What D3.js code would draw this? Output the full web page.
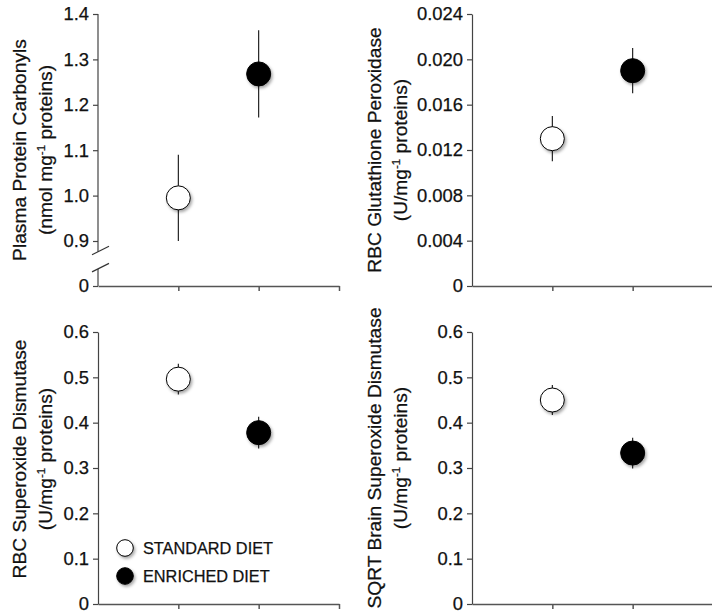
<!DOCTYPE html>
<html>
<head>
<meta charset="utf-8">
<script src="https://cdn.jsdelivr.net/npm/d3@7"></script>
<style>
  body { margin: 0; background: #fff; }
  svg text { font-family: "Liberation Sans", Arial, sans-serif; fill: #111; stroke: #111; stroke-width: 0.25px; }
</style>
</head>
<body>
<div id="chart"></div>
<script>
const groups = ["STANDARD DIET", "ENRICHED DIET"];
const groupPos = [1, 2];

const carbonylMean = [0.995, 1.268];
const carbonylErr = [0.095, 0.096];
const gpxMean = [0.013, 0.019];
const gpxErr = [0.002, 0.002];
const rbcSodMean = [0.496, 0.378];
const rbcSodErr = [0.034, 0.035];
const brainSodMean = [0.450, 0.333];
const brainSodErr = [0.033, 0.034];

const carbonylTicks = [0, 0.9, 1.0, 1.1, 1.2, 1.3, 1.4];
const gpxTicks = [0, 0.004, 0.008, 0.012, 0.016, 0.020, 0.024];
const sodTicks = [0, 0.1, 0.2, 0.3, 0.4, 0.5, 0.6];

const width = 712;
const height = 615;

const svg = d3.select("#chart").append("svg")
  .attr("width", width)
  .attr("height", height);

// soft drop shadow under the markers
const defs = svg.append("defs");
defs.append("filter")
  .attr("id", "shadow")
  .attr("x", "-50%").attr("y", "-50%")
  .attr("width", "200%").attr("height", "200%")
  .append("feDropShadow")
  .attr("dx", 1.5).attr("dy", 2)
  .attr("stdDeviation", 1.6)
  .attr("flood-color", "#000")
  .attr("flood-opacity", 0.35);

const fmt1 = (d) => (d === 0 ? "0" : d.toFixed(1));
const fmt3 = (d) => (d === 0 ? "0" : d.toFixed(3));

function drawPanel(opt) {
  const x = d3.scaleLinear().domain([0, 3]).range([opt.left, opt.right]);
  const y = d3.scaleLinear().domain(opt.domain).range(opt.range);
  const g = svg.append("g");

  // x axis
  const xAxis = g.append("g")
    .attr("transform", `translate(0,${y(0)})`)
    .call(d3.axisBottom(x).tickValues([1, 2, 3]).tickFormat("").tickSize(5).tickSizeOuter(0));
  xAxis.selectAll("path, line").attr("stroke", "#555").attr("stroke-width", 1.5);

  // y axis
  const yAxis = g.append("g")
    .attr("transform", `translate(${opt.left},0)`)
    .call(d3.axisLeft(y).tickValues(opt.ticks).tickFormat(opt.format).tickSize(5).tickSizeOuter(0).tickPadding(4));
  yAxis.selectAll("path, line").attr("stroke", "#444").attr("stroke-width", 1.2);
  yAxis.selectAll("text").attr("font-size", 18.4).attr("fill", "#111");

  if (opt.broken) {
    // axis break between 0 and the first non-zero tick
    yAxis.select(".domain").remove();
    const y0 = y(0);
    const y1 = y(opt.ticks[1]);
    const gap = y0 - y1;
    const b1 = y1 + gap * 0.24;
    const b2 = y1 + gap * 0.62;
    const seg = [[y(opt.ticks[opt.ticks.length - 1]), b1], [b2, y0]];
    seg.forEach(([a, b]) => {
      g.append("line")
        .attr("x1", opt.left).attr("x2", opt.left)
        .attr("y1", a).attr("y2", b)
        .attr("stroke", "#444").attr("stroke-width", 1.2);
    });
    [b1, b2].forEach((b) => {
      g.append("line")
        .attr("x1", opt.left - 6).attr("y1", b + 3)
        .attr("x2", opt.left + 11).attr("y2", b - 5.5)
        .attr("stroke", "#333").attr("stroke-width", 1.2);
    });
  }

  // error bars
  g.selectAll(".err").data(opt.mean).join("line")
    .attr("x1", (d, i) => x(groupPos[i]))
    .attr("x2", (d, i) => x(groupPos[i]))
    .attr("y1", (d, i) => y(d + opt.err[i]))
    .attr("y2", (d, i) => y(d - opt.err[i]))
    .attr("stroke", "#111").attr("stroke-width", 1.1);

  // means
  g.selectAll(".pt").data(opt.mean).join("circle")
    .attr("cx", (d, i) => x(groupPos[i]))
    .attr("cy", (d) => y(d))
    .attr("r", 12)
    .attr("fill", (d, i) => (i === 0 ? "#fff" : "#000"))
    .attr("stroke", "#000").attr("stroke-width", 1)
    .attr("filter", "url(#shadow)");

  // y axis title, two lines
  const title = g.append("g")
    .attr("transform", `translate(0,${opt.titleY}) rotate(-90)`);
  title.append("text")
    .attr("x", 0).attr("y", opt.titleX[0])
    .attr("text-anchor", "middle")
    .attr("font-size", 19.2)
    .text(opt.title);
  const t2 = title.append("text")
    .attr("x", 0).attr("y", opt.titleX[1])
    .attr("text-anchor", "middle")
    .attr("font-size", 19.2);
  t2.append("tspan").text(opt.unit[0]);
  t2.append("tspan").attr("dy", -7).attr("font-size", 11.5).text("-1");
  t2.append("tspan").attr("dy", 7).text(opt.unit[1]);

  return { x, y };
}

drawPanel({
  left: 98, right: 339, domain: [0, 0.9, 1.4], range: [286, 241, 14],
  ticks: carbonylTicks, format: fmt1, broken: true,
  mean: carbonylMean, err: carbonylErr, titleY: 150, titleX: [26, 52],
  title: "Plasma Protein Carbonyls", unit: ["(nmol mg", " proteins)"]
});

drawPanel({
  left: 472, right: 713, domain: [0, 0.024], range: [286, 14],
  ticks: gpxTicks, format: fmt3,
  mean: gpxMean, err: gpxErr, titleY: 150, titleX: [381, 407],
  title: "RBC Glutathione Peroxidase", unit: ["(U/mg", " proteins)"]
});

drawPanel({
  left: 98, right: 339, domain: [0, 0.6], range: [604, 332],
  ticks: sodTicks, format: fmt1,
  mean: rbcSodMean, err: rbcSodErr, titleY: 459, titleX: [26, 52],
  title: "RBC Superoxide Dismutase", unit: ["(U/mg", " proteins)"]
});

drawPanel({
  left: 472, right: 713, domain: [0, 0.6], range: [604, 332],
  ticks: sodTicks, format: fmt1,
  mean: brainSodMean, err: brainSodErr, titleY: 458, titleX: [381, 407],
  title: "SQRT Brain Superoxide Dismutase", unit: ["(U/mg", " proteins)"]
});

// legend inside the bottom-left panel
const legend = svg.append("g").attr("transform", `translate(125,548)`);
groups.forEach((name, i) => {
  const row = legend.append("g").attr("transform", `translate(0,${i * 28})`);
  row.append("circle")
    .attr("r", 8.3)
    .attr("fill", i === 0 ? "#fff" : "#000")
    .attr("stroke", "#000").attr("stroke-width", 1)
    .attr("filter", "url(#shadow)");
  row.append("text")
    .attr("x", 18).attr("y", 6)
    .attr("font-size", 16.3)
    .text(name);
});
</script>
</body>
</html>
